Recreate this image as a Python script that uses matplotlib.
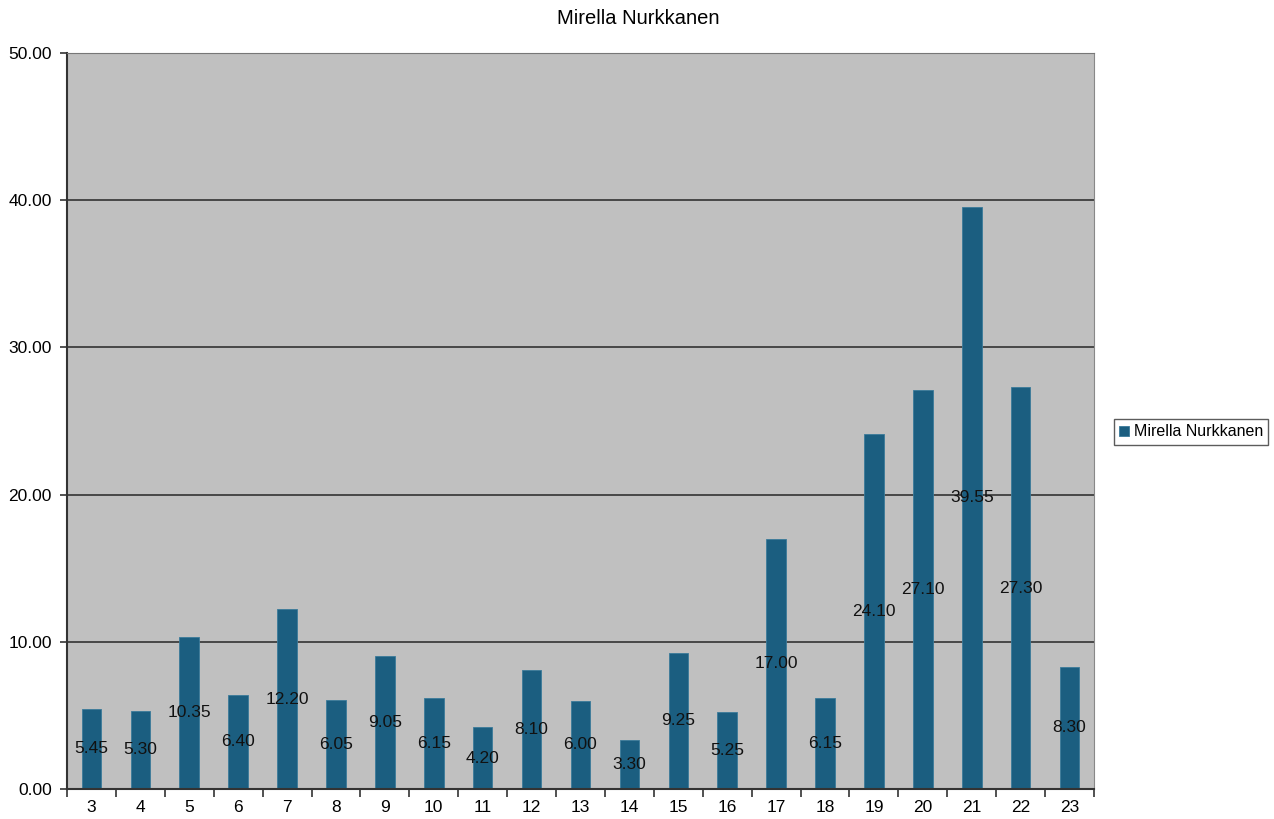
import matplotlib
matplotlib.use("Agg")
import matplotlib.pyplot as plt
import numpy as np

plt.rcParams['font.family'] = ['Liberation Sans', 'DejaVu Sans']

categories = ['3', '4', '5', '6', '7', '8', '9', '10', '11', '12', '13', '14',
              '15', '16', '17', '18', '19', '20', '21', '22', '23']
values = [5.45, 5.30, 10.35, 6.40, 12.20, 6.05, 9.05, 6.15, 4.20, 8.10, 6.00, 3.30,
          9.25, 5.25, 17.00, 6.15, 24.10, 27.10, 39.55, 27.30, 8.30]
series_name = 'Mirella Nurkkanen'
title = 'Mirella Nurkkanen'
yticks = [0, 10, 20, 30, 40, 50]

fig = plt.figure(figsize=(12.74, 8.19), dpi=100)
ax = fig.add_axes([67/1274, 30/819, (1094-67)/1274, (789-53)/819])
ax.set_facecolor('#c0c0c0')

x = np.arange(len(categories))
bars = ax.bar(x, values, width=0.4, color='#1b5e80', edgecolor='#3a7a9a', linewidth=0.6,
              label=series_name, zorder=3)
for xi, v in zip(x, values):
    ax.text(xi, v / 2, f'{v:.2f}', ha='center', va='center', fontsize=12.5,
            color='#111111', zorder=4)

ax.set_xlim(-0.5, len(categories) - 0.5)
ax.set_ylim(0, 50)
ax.set_yticks(yticks)
ax.set_yticklabels([f'{t:.2f}' for t in yticks], fontsize=12.5)
ax.set_xticks(x)
ax.set_xticklabels(categories, fontsize=12.5)
ax.tick_params(axis='x', length=0, pad=8)
ax.set_xticks(np.arange(-0.5, len(categories), 1), minor=True)
ax.tick_params(axis='x', which='minor', length=6, direction='out', color='#333333', width=1.2)
ax.tick_params(axis='y', length=5, direction='out', color='#333333', width=1.2, pad=6)

for t in yticks[1:-1]:
    ax.axhline(t, color='#333333', linewidth=1.2, zorder=2)
ax.spines['left'].set_color('#333333')
ax.spines['left'].set_linewidth(1.5)
ax.spines['bottom'].set_color('#333333')
ax.spines['bottom'].set_linewidth(1.5)
ax.spines['top'].set_color('#777777')
ax.spines['right'].set_color('#888888')
for s in ax.spines.values():
    s.set_zorder(5)

fig.text(638/1274, 1 - 18/819, title, ha='center', va='center', fontsize=14.5)

leg = fig.legend(handles=[bars], labels=[series_name], loc='center',
                 bbox_to_anchor=(1191/1274, 1 - 432/819), fontsize=11.5,
                 frameon=True, fancybox=False, handlelength=0.6, handleheight=0.6,
                 handletextpad=0.3, borderpad=0.35, borderaxespad=0)
leg.get_frame().set_edgecolor('#333333')
leg.get_frame().set_linewidth(1.0)

fig.savefig('out.png', dpi=100)
